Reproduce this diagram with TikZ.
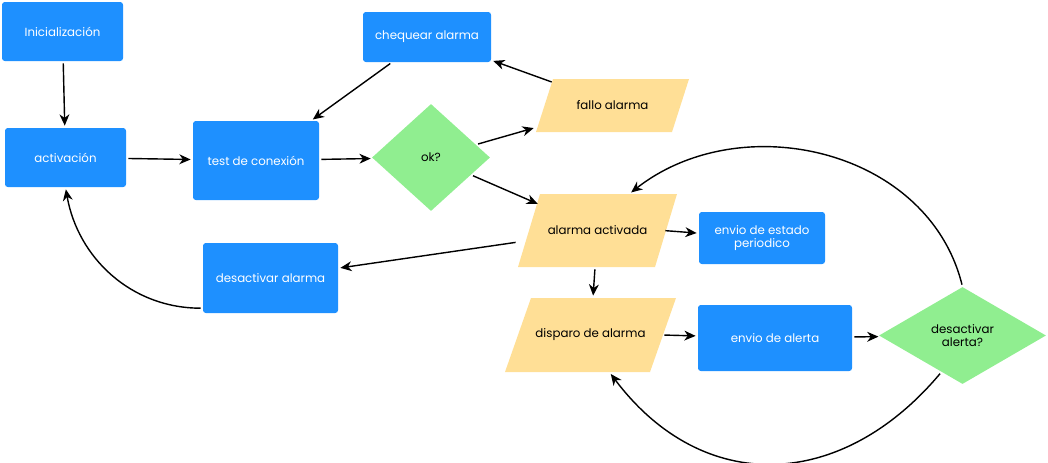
\documentclass[tikz,border=0pt]{standalone}
\usepackage{fontspec}
\setmainfont{Poppins}
\usepackage{xcolor}
\usetikzlibrary{shapes.geometric,arrows.meta,positioning}
\definecolor{procblue}{HTML}{1E90FF}
\definecolor{decgreen}{HTML}{90EE90}
\definecolor{dataorange}{HTML}{FFDF96}

\begin{document}
\begin{tikzpicture}[
    process/.style={rectangle, rounded corners=2pt, fill=procblue, text=white, align=center, font=\fontsize{8.4}{9.8}\selectfont},
    decision/.style={diamond, fill=decgreen, inner sep=0pt, align=center, font=\fontsize{8.4}{9.8}\selectfont},
    data/.style={rectangle, inner sep=0pt, align=center, font=\fontsize{8.4}{9.8}\selectfont,
        path picture={\fill[dataorange] (path picture bounding box.south west) -- ([xshift=#1]path picture bounding box.north west)
            -- (path picture bounding box.north east) -- ([xshift=-#1]path picture bounding box.south east) -- cycle;}},
    arrow/.style={-{Stealth[length=8pt, width=7pt, inset=2.5pt]}, line width=1pt, shorten <=1.5pt, shorten >=1.5pt}
]
\useasboundingbox (0,0) rectangle (26.2,-11.575);

% Left column
\node[process, minimum width=3.025cm, minimum height=1.475cm] (init) at (1.5625,-0.7875) {Inicialización};
\node[process, minimum width=3.025cm, minimum height=1.475cm] (act) at (1.6375,-3.9375) {activación};
\node[process, minimum width=3.15cm, minimum height=1.975cm] (test) at (6.4,-4.0125) {test de conexión};
\node[process, minimum width=3.375cm, minimum height=1.75cm] (dalarm) at (6.7625,-6.95) {desactivar alarma};

% Connection check
\node[process, minimum width=3.2cm, minimum height=1.25cm] (cheq) at (10.675,-0.925) {chequear alarma};
\node[decision, minimum width=2.95cm, minimum height=2.675cm] (ok) at (10.775,-3.9375) {ok?};
\node[data=0.425cm, minimum width=3.825cm, minimum height=1.325cm] (fallo) at (15.3125,-2.6375) {fallo alarma};

% Alarm
\node[data=0.55cm, minimum width=3.975cm, minimum height=1.825cm] (alarma) at (14.9375,-5.7625) {alarma activada};
\node[data=0.65cm, minimum width=4.275cm, minimum height=1.85cm] (disparo) at (14.7625,-8.375) {disparo de alarma};
\node[process, minimum width=3.15cm, minimum height=1.3cm] (estado) at (19.05,-5.95) {envio de estado\\periodico};
\node[process, minimum width=3.85cm, minimum height=1.65cm] (alerta) at (19.375,-8.45) {envio de alerta};
\node[decision, minimum width=4.175cm, minimum height=2.425cm] (dalerta) at (24.0625,-8.3875) {desactivar\\alerta?};

% Arrows
\draw[arrow] (init) -- (act);
\draw[arrow] (act) -- (test);
\draw[arrow] (test) -- (ok);
\draw[arrow] (cheq) -- (test);
\draw[arrow] (ok) -- (fallo);
\draw[arrow] ([xshift=0.45cm, yshift=-0.1cm]fallo.north west) -- (cheq);
\draw[arrow] (ok) -- ([xshift=0.55cm, yshift=-0.275cm]alarma.north west);
\draw[arrow] (alarma) -- (dalarm);
\draw[arrow] ([xshift=-0.35cm]alarma.east) -- (estado);
\draw[arrow] (alarma) -- (disparo);
\draw[arrow] ([xshift=-0.35cm]disparo.east) -- (alerta);
\draw[arrow] (alerta) -- (dalerta);
\draw[arrow] (dalarm.204) to[out=180, in=-80] (act.south);
\draw[arrow] (dalerta.north) to[out=104, in=38, looseness=1.05] (alarma.49);
\draw[arrow] (dalerta.240) to[out=-130, in=-53, looseness=1.2] (disparo.297);

\end{tikzpicture}
\end{document}
